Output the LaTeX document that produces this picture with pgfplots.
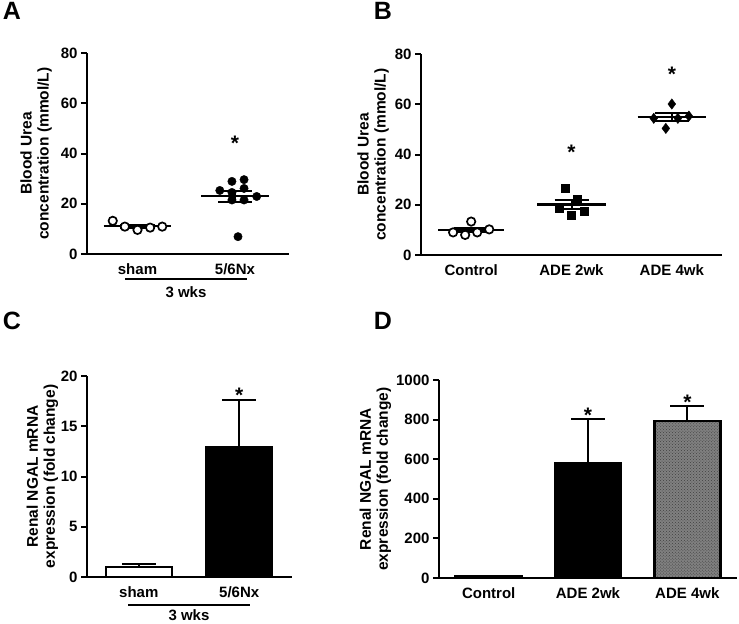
\documentclass[border=0pt]{standalone}
\usepackage{fontspec}
\setmainfont{Liberation Sans}
\usepackage{pgfplots}
\pgfplotsset{compat=1.18}
\usetikzlibrary{calc,patterns}

\newcommand\tf{\fontsize{15bp}{16bp}\selectfont\bfseries}
\newcommand\lf{\fontsize{15bp}{17bp}\selectfont\bfseries}
\newcommand\yf{\fontsize{15.5bp}{17bp}\selectfont\bfseries}
\newcommand\af{\fontsize{21bp}{21bp}\selectfont\bfseries}
\newcommand\pf{\fontsize{25bp}{25bp}\selectfont\bfseries}

\pgfplotsset{
  panel/.style={
    scale only axis, clip=false, anchor=south west,
    axis x line*=bottom, axis y line*=left,
    axis line style={line width=2.5bp, black},
    tick style={line width=2bp, black},
    xtick style={draw=none},
    tick align=outside, major tick length=6bp,
    ticklabel style={font=\tf},
    xticklabel style={font=\lf},
    /pgf/number format/assume math mode=true,
    /pgf/number format/1000 sep={},
    ylabel style={font=\yf, align=center, anchor=center, rotate=0},
  },
  meanline/.style={black, line width=2.2bp, mark=none},
  sem/.style={draw=none, mark=none, forget plot,
    error bars/.cd, y dir=both, y explicit,
    error bar style={draw=black, line width=2bp},
    error mark options={rotate=90, draw=black, line width=2bp, mark size=17bp}},
  semup/.style={draw=none, mark=none, forget plot,
    error bars/.cd, y dir=plus, y explicit,
    error bar style={draw=black, line width=2bp},
    error mark options={rotate=90, draw=black, line width=2bp, mark size=17bp}},
  barst/.style={ybar, bar width=66bp, draw=black, line width=2.5bp},
}

\begin{document}
\begin{tikzpicture}
\useasboundingbox (0,0) rectangle (739bp,-624bp);

% ---------------- A ----------------
\begin{axis}[panel, at={(87bp,-254bp)}, width=202bp, height=201bp,
  xmin=0, xmax=4, ymin=0, ymax=80, ytick={0,20,...,80},
  xtick={1,2.93}, xticklabels={sham,5/6Nx},
  ylabel={Blood Urea\\concentration (mmol/L)},
  ylabel style={at={($(rel axis cs:0,0.5)+(-51bp,0)$)}}]
\addplot[meanline] coordinates {(0.33,11) (1.67,11)};
\addplot[sem] coordinates {(1,11) +- (0,0.6)};
\addplot[only marks, mark=*, mark size=4.2bp, mark options={fill=white, draw=black, line width=1.7bp}]
  coordinates {(0.51,13.2) (0.75,10.9) (1.0,9.6) (1.25,10.5) (1.49,10.9)};
\addplot[meanline] coordinates {(2.26,23) (3.60,23)};
\addplot[sem] coordinates {(2.93,23) +- (0,2.2)};
\addplot[only marks, mark=*, mark size=4.2bp, mark options={fill=black, draw=black}]
  coordinates {(2.63,25.3) (2.87,28.9) (2.87,24.5) (3.11,29.6) (3.11,26.1) (2.87,21.5) (3.11,21.5) (3.36,22.9) (2.99,6.9)};
\node[font=\af, anchor=base, yshift=-12bp] at (axis cs:2.93,46) {*};
\end{axis}
\draw[line width=2bp] (125bp,-279bp) -- (247bp,-279bp);
\node[font=\lf] at (186bp,-292bp) {3 wks};

% ---------------- B ----------------
\begin{axis}[panel, at={(421bp,-255bp)}, width=301bp, height=201bp,
  xmin=0, xmax=3, ymin=0, ymax=80, ytick={0,20,...,80},
  xtick={0.5,1.5,2.5}, xticklabels={Control,ADE 2wk,ADE 4wk},
  ylabel={Blood Urea\\concentration (mmol/L)},
  ylabel style={at={($(rel axis cs:0,0.5)+(-48bp,0)$)}}]
\addplot[meanline] coordinates {(0.17,10) (0.83,10)};
\addplot[sem] coordinates {(0.5,10) +- (0,0.9)};
\addplot[only marks, mark=*, mark size=4.2bp, mark options={fill=white, draw=black, line width=1.7bp}]
  coordinates {(0.32,9.0) (0.44,8.0) (0.50,13.3) (0.56,9.0) (0.68,10.2)};
\addplot[meanline] coordinates {(1.16,20.1) (1.84,20.1)};
\addplot[sem] coordinates {(1.5,20.1) +- (0,1.9)};
\addplot[only marks, mark=square*, mark size=3.9bp, mark options={fill=black, draw=black}]
  coordinates {(1.44,26.5) (1.56,22.2) (1.38,18.6) (1.50,15.9) (1.63,17.5)};
\addplot[meanline] coordinates {(2.16,54.9) (2.84,54.9)};
\addplot[sem] coordinates {(2.5,54.9) +- (0,1.6)};
\addplot[only marks, mark=diamond*, mark size=5.2bp, mark options={fill=black, draw=black}]
  coordinates {(2.50,60.1) (2.32,54.4) (2.44,50.4) (2.56,54.4) (2.67,55.3)};
\node[font=\af, anchor=base, yshift=-12bp] at (axis cs:1.5,42.7) {*};
\node[font=\af, anchor=base, yshift=-12bp] at (axis cs:2.5,74) {*};
\end{axis}

% ---------------- C ----------------
\begin{axis}[panel, at={(87bp,-577bp)}, width=205bp, height=201bp,
  xmin=0, xmax=4, ymin=0, ymax=20, ytick={0,5,...,20},
  xtick={1.01,2.97}, xticklabels={sham,5/6Nx},
  ylabel={Renal NGAL mRNA\\expression (fold change)},
  ylabel style={at={($(rel axis cs:0,0.5)+(-44.5bp,0)$)}}]
\addplot[semup] coordinates {(1.01,1.0) +- (0,0.3)};
\addplot[semup] coordinates {(2.97,12.95) +- (0,4.65)};
\addplot[barst, fill=white] coordinates {(1.01,1.0)};
\addplot[barst, fill=black] coordinates {(2.97,12.95)};
\node[font=\af, anchor=base, yshift=-12bp] at (axis cs:2.97,18.6) {*};
\end{axis}
\draw[line width=2bp] (128bp,-605bp) -- (250bp,-605bp);
\node[font=\lf] at (189bp,-615bp) {3 wks};

% ---------------- D ----------------
\begin{axis}[panel, at={(439bp,-578bp)}, width=298bp, height=198bp,
  xmin=0, xmax=3, ymin=0, ymax=1000, ytick={0,200,...,1000},
  xtick={0.5,1.5,2.5}, xticklabels={Control,ADE 2wk,ADE 4wk},
  ylabel={Renal NGAL mRNA\\expression (fold change)},
  ylabel style={at={($(rel axis cs:0,0.5)+(-63.5bp,0)$)}}]
\addplot[semup] coordinates {(0.5,8) +- (0,2)};
\addplot[semup] coordinates {(1.5,579) +- (0,222)};
\addplot[semup] coordinates {(2.5,793) +- (0,77)};
\addplot[barst, fill=white] coordinates {(0.5,8)};
\addplot[barst, fill=black] coordinates {(1.5,579)};
\addplot[barst, fill=black!50, postaction={pattern=crosshatch dots, pattern color=black!75}] coordinates {(2.5,793)};
\node[font=\af, anchor=base, yshift=-12bp] at (axis cs:1.5,848) {*};
\node[font=\af, anchor=base, yshift=-12bp] at (axis cs:2.5,914) {*};
\end{axis}

% panel letters
\node[font=\pf] at (12bp,-11bp) {A};
\node[font=\pf] at (383bp,-11bp) {B};
\node[font=\pf] at (12bp,-321bp) {C};
\node[font=\pf] at (383bp,-321bp) {D};
\end{tikzpicture}
\end{document}
